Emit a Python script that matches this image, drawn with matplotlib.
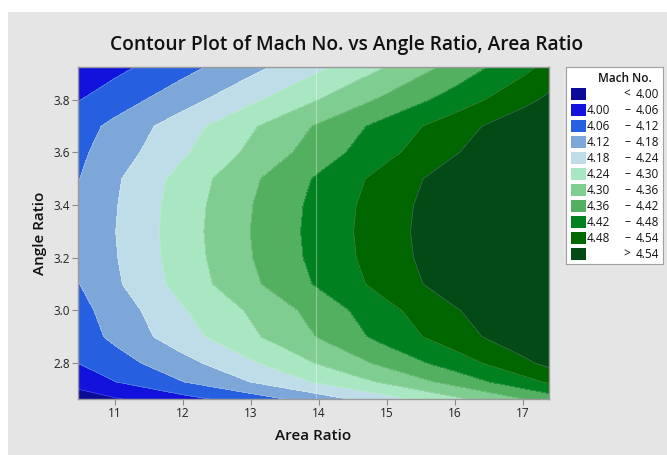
import matplotlib
matplotlib.use("Agg")
import matplotlib.pyplot as plt
import numpy as np
from matplotlib.patches import Rectangle

plt.rcParams['font.family'] = ['Open Sans', 'DejaVu Sans']

# Grid of Mach No. values over Area Ratio (columns) and Angle Ratio (rows)
area_ratio = [10.45, 11, 12, 13, 14, 15, 16, 17, 17.4]
angle_ratio = [2.66, 2.728, 2.8, 2.9, 3.0, 3.1, 3.2, 3.3, 3.4, 3.5, 3.6, 3.7, 3.8, 3.93]
mach = [
    [3.968, 3.992, 4.037, 4.087, 4.147, 4.215, 4.284, 4.356, 4.384],
    [4.021, 4.059, 4.119, 4.181, 4.248, 4.311, 4.382, 4.458, 4.490],
    [4.060, 4.095, 4.160, 4.232, 4.305, 4.378, 4.450, 4.527, 4.558],
    [4.090, 4.133, 4.216, 4.289, 4.364, 4.443, 4.514, 4.580, 4.605],
    [4.100, 4.146, 4.235, 4.308, 4.384, 4.465, 4.535, 4.597, 4.620],
    [4.117, 4.170, 4.263, 4.348, 4.428, 4.504, 4.572, 4.631, 4.653],
    [4.125, 4.176, 4.270, 4.358, 4.439, 4.514, 4.581, 4.639, 4.661],
    [4.127, 4.179, 4.273, 4.361, 4.442, 4.517, 4.584, 4.642, 4.664],
    [4.125, 4.176, 4.270, 4.358, 4.439, 4.514, 4.581, 4.639, 4.661],
    [4.117, 4.171, 4.262, 4.349, 4.429, 4.504, 4.572, 4.631, 4.653],
    [4.107, 4.150, 4.232, 4.313, 4.390, 4.466, 4.536, 4.599, 4.623],
    [4.094, 4.135, 4.213, 4.292, 4.368, 4.443, 4.514, 4.580, 4.606],
    [4.057, 4.091, 4.156, 4.228, 4.301, 4.374, 4.447, 4.523, 4.554],
    [4.012, 4.042, 4.098, 4.159, 4.226, 4.299, 4.377, 4.461, 4.496],
]

# contour breaks
breaks = [4.00, 4.06, 4.12, 4.18, 4.24, 4.30, 4.36, 4.42, 4.48, 4.54]
colors = ['#0b0b98', '#1212dc', '#2660e0', '#7ea7d9', '#bfdde8', '#a8e7c1',
          '#80cd91', '#52b060', '#00801f', '#006600', '#044a17']

levels = [3.5] + breaks + [5.0]

W, H = 667, 455
fig = plt.figure(figsize=(W / 100, H / 100), dpi=100)
fig.patch.set_facecolor('white')
fig.add_artist(Rectangle((8 / W, 0), 1, (H - 12) / H, transform=fig.transFigure,
                         facecolor='#e5e5e5', edgecolor='none', zorder=0))

ax = fig.add_axes([78 / W, 1 - 399 / H, (549 - 78) / W, (399 - 67) / H])
X, Y = np.meshgrid(area_ratio, angle_ratio)
Z = np.array(mach)
ax.contourf(X, Y, Z, levels=levels, colors=colors)
ax.contour(X, Y, Z, levels=breaks, colors='white', linewidths=0.4, alpha=0.3)
ax.axvline(13.956, color='white', lw=0.8, alpha=0.35)

ax.set_xlim(10.456, 17.38)
ax.set_ylim(2.663, 3.925)
ax.set_xticks([11, 12, 13, 14, 15, 16, 17])
ax.set_yticks([2.8, 3.0, 3.2, 3.4, 3.6, 3.8])
ax.set_yticklabels(['2.8', '3.0', '3.2', '3.4', '3.6', '3.8'])
ax.tick_params(direction='out', length=4, width=0.8, color='#8a8a8a',
               labelsize=8.5, labelcolor='#222222', pad=2)
for s in ax.spines.values():
    s.set_color('#9a9a9a')
    s.set_linewidth(1.0)

ax.set_xlabel('Area Ratio', fontsize=11, fontweight='semibold', color='#111111', labelpad=6)
ax.set_ylabel('Angle Ratio', fontsize=11, fontweight='semibold', color='#111111', labelpad=4)
fig.text(347 / W, 1 - 45 / H, 'Contour Plot of Mach No. vs Angle Ratio, Area Ratio',
         ha='center', va='center', fontsize=13.8, fontweight='semibold', color='#111111')

# legend box
lw_, lh_ = 97, 197
lax = fig.add_axes([566 / W, 1 - (67 + lh_) / H, lw_ / W, lh_ / H])
lax.set_xlim(0, lw_)
lax.set_ylim(lh_, 0)
lax.set_xticks([])
lax.set_yticks([])
lax.set_facecolor('white')
for s in lax.spines.values():
    s.set_color('#a0a0a0')
    s.set_linewidth(0.8)

lax.text(59, 11, 'Mach No.', ha='center', va='center', fontsize=8.5,
         fontweight='semibold', color='#111111')
for i, c in enumerate(colors):
    yc = 27 + 16 * i
    lax.add_patch(Rectangle((5, yc - 6), 15, 12, facecolor=c, edgecolor='none'))
    if i == 0:
        lax.text(61, yc, '<', ha='center', va='center', fontsize=8.5, color='#111111')
        lax.text(93, yc, f'{breaks[0]:.2f}', ha='right', va='center', fontsize=8.5, color='#111111')
    elif i == len(colors) - 1:
        lax.text(61, yc, '>', ha='center', va='center', fontsize=8.5, color='#111111')
        lax.text(93, yc, f'{breaks[-1]:.2f}', ha='right', va='center', fontsize=8.5, color='#111111')
    else:
        lax.text(44, yc, f'{breaks[i - 1]:.2f}', ha='right', va='center', fontsize=8.5, color='#111111')
        lax.text(61, yc, '–', ha='center', va='center', fontsize=8.5, color='#111111')
        lax.text(93, yc, f'{breaks[i]:.2f}', ha='right', va='center', fontsize=8.5, color='#111111')

fig.savefig('out.png', dpi=100)
